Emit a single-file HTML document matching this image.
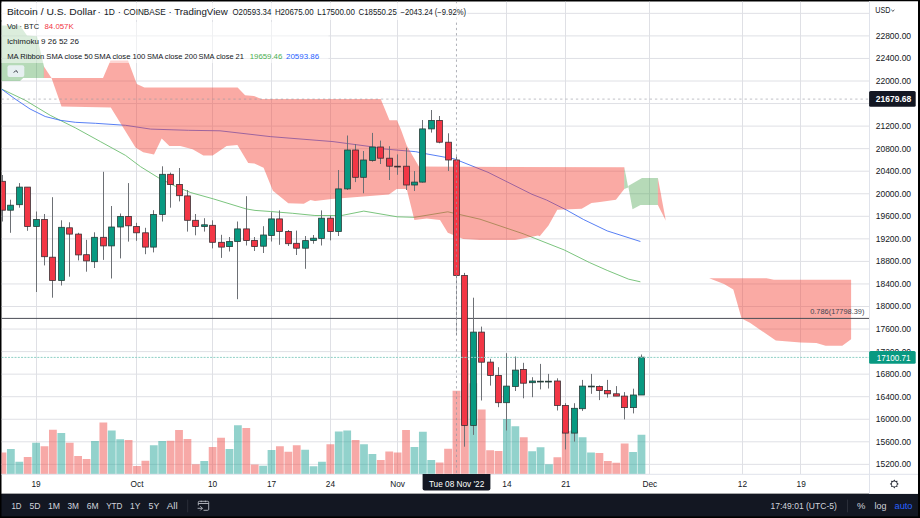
<!DOCTYPE html><html><head><meta charset="utf-8"><style>
html,body{margin:0;padding:0;background:#000;}
#root{position:relative;width:920px;height:518px;overflow:hidden;background:#000;}
svg{position:absolute;left:0;top:0;}
text{font-family:"Liberation Sans",sans-serif;}
</style></head><body><div id="root">
<svg width="920" height="518" viewBox="0 0 920 518">
<rect x="1.5" y="1.5" width="916.5" height="492.3" fill="#ffffff"/>
<rect x="1.5" y="493.8" width="916.5" height="22.6" fill="#131722"/>
<defs><clipPath id="cp"><rect x="1.5" y="1.5" width="867.5" height="472.8"/></clipPath></defs><g clip-path="url(#cp)">
<path d="M1.5 13.35H869 M1.5 35.90H869 M1.5 58.45H869 M1.5 81.00H869 M1.5 103.55H869 M1.5 126.10H869 M1.5 148.65H869 M1.5 171.20H869 M1.5 193.75H869 M1.5 216.30H869 M1.5 238.85H869 M1.5 261.40H869 M1.5 283.95H869 M1.5 306.50H869 M1.5 329.05H869 M1.5 351.60H869 M1.5 374.15H869 M1.5 396.70H869 M1.5 419.25H869 M1.5 441.80H869 M1.5 464.35H869" stroke="#dfe0e5" stroke-width="1" fill="none"/>
<path d="M36.50 1.5V474 M136.50 1.5V474 M212.50 1.5V474 M271.50 1.5V474 M330.50 1.5V474 M397.50 1.5V474 M506.50 1.5V474 M565.50 1.5V474 M649.50 1.5V474 M742.50 1.5V474 M800.50 1.5V474" stroke="#dfe0e5" stroke-width="1" fill="none"/>
<path d="M1.3 88.9 L25.1 100.2 L50.2 115.3 L75.3 127.8 L100.4 141.6 L125.5 155.4 L140.6 166.7 L158.2 177.6 L175.7 186.4 L190.8 192.6 L213.4 198.9 L246.1 208.9 L255.0 210.4 L270.5 211.5 L292.7 213.3 L314.9 215.5 L341.6 215.5 L363.8 211.1 L397.1 216.8 L414.4 217.3 L447.8 211.8 L480.0 219.2 L523.0 233.7 L564.1 249.9 L589.6 262.6 L607.2 270.4 L628.7 279.2 L640.4 281.8" stroke="#6cbd6f" stroke-width="0.9" fill="none"/>
<path d="M1.3 88.9 L15.0 98.9 L30.1 109.0 L45.2 116.5 L60.3 120.3 L75.3 122.3 L95.4 123.3 L125.5 125.3 L150.6 129.1 L188.3 130.3 L220.0 130.8 L270.2 136.6 L333.0 141.6 L370.6 146.6 L383.3 148.9 L415.8 151.7 L423.3 153.3 L454.4 158.9 L488.0 172.3 L532.0 194.3 L546.5 200.0 L566.1 209.8 L583.7 219.6 L607.2 230.9 L640.4 241.5" stroke="#4471f3" stroke-width="0.9" fill="none"/>
<path d="M1.5 25.4 L20.0 25.4 L27.0 35.5 L37.0 36.2 L44.0 66.4 L44.0 78.0 L23.2 78.0 L20.0 81.0 L1.5 81.0 Z" fill="rgba(67,160,71,0.39)"/>
<path d="M51.5 78.1 L103.0 78.1 L110.5 60.5 L128.0 60.5 L136.8 83.9 L144.4 87.6 L237.6 87.6 L245.1 95.2 L253.9 95.9 L261.4 98.9 L380.7 98.9 L389.5 120.3 L397.0 120.3 L401.1 130.0 L406.7 145.6 L418.9 166.6 L624.3 167.3 L624.3 189.0 L615.9 199.8 L600.0 202.0 L591.5 202.9 L581.7 208.8 L557.3 209.8 L548.5 225.4 L539.7 236.2 L538.0 235.4 L515.2 240.1 L480.0 240.0 L463.3 238.9 L447.8 232.7 L440.0 220.0 L426.7 218.4 L414.4 220.0 L406.7 188.9 L396.7 188.9 L388.9 194.4 L331.7 198.9 L315.0 201.1 L310.5 200.0 L303.8 203.8 L288.3 203.3 L272.9 190.8 L263.6 167.7 L254.4 163.6 L248.2 163.0 L237.4 145.1 L226.6 146.1 L212.7 155.4 L203.4 155.4 L192.6 149.2 L180.3 146.1 L169.4 146.1 L161.7 138.4 L154.0 154.4 L143.2 152.2 L135.5 147.6 L110.8 107.5 L61.5 106.5 Z" fill="rgba(244,67,54,0.45)"/>
<path d="M43.9 66.4 L51.5 77.9 L43.9 77.9 Z" fill="rgba(244,67,54,0.45)"/>
<path d="M624.3 167.3 L628.2 187.5 L624.3 189.0 Z" fill="rgba(67,160,71,0.39)"/>
<path d="M628.2 186.1 L642.0 178.1 L657.9 178.1 L657.9 204.9 L640.5 204.9 L632.5 209.2 Z" fill="rgba(67,160,71,0.39)"/>
<path d="M657.9 178.1 L665.8 220.8 L657.9 204.9 Z" fill="rgba(244,67,54,0.45)"/>
<path d="M709.2 278.3 L766.5 278.3 L773.9 279.8 L851.1 279.8 L851.1 339.3 L842.3 345.8 L825.6 345.8 L816.4 343.0 L800.7 342.4 L775.8 340.6 L749.9 322.7 L741.6 318.4 L733.3 289.4 L724.0 283.9 Z" fill="rgba(244,67,54,0.45)"/>
<path d="M-1.45 452.6h7.8V474h-7.8ZM23.77 457.0h7.8V474h-7.8ZM40.59 446.2h7.8V474h-7.8ZM49.00 429.7h7.8V474h-7.8ZM65.81 442.7h7.8V474h-7.8ZM74.22 456.1h7.8V474h-7.8ZM82.63 459.0h7.8V474h-7.8ZM99.45 422.5h7.8V474h-7.8ZM124.67 439.9h7.8V474h-7.8ZM133.08 466.0h7.8V474h-7.8ZM141.49 460.8h7.8V474h-7.8ZM166.71 440.8h7.8V474h-7.8ZM175.12 430.0h7.8V474h-7.8ZM183.53 439.0h7.8V474h-7.8ZM191.93 464.3h7.8V474h-7.8ZM208.75 447.0h7.8V474h-7.8ZM217.16 437.8h7.8V474h-7.8ZM242.38 427.9h7.8V474h-7.8ZM250.79 464.4h7.8V474h-7.8ZM276.01 446.2h7.8V474h-7.8ZM284.42 451.7h7.8V474h-7.8ZM292.83 445.3h7.8V474h-7.8ZM326.46 444.3h7.8V474h-7.8ZM351.69 439.9h7.8V474h-7.8ZM376.91 459.9h7.8V474h-7.8ZM385.32 451.4h7.8V474h-7.8ZM393.73 452.6h7.8V474h-7.8ZM402.13 430.0h7.8V474h-7.8ZM435.77 462.5h7.8V474h-7.8ZM444.17 448.8h7.8V474h-7.8ZM452.58 390.7h7.8V474h-7.8ZM460.99 360.0h7.8V474h-7.8ZM477.81 409.6h7.8V474h-7.8ZM486.21 450.3h7.8V474h-7.8ZM494.62 450.9h7.8V474h-7.8ZM519.85 437.2h7.8V474h-7.8ZM553.48 457.2h7.8V474h-7.8ZM561.89 430.9h7.8V474h-7.8ZM595.52 453.0h7.8V474h-7.8ZM603.93 461.1h7.8V474h-7.8ZM612.33 462.8h7.8V474h-7.8ZM620.74 443.6h7.8V474h-7.8Z" fill="rgba(239,83,80,0.5)"/>
<path d="M6.96 449.1h7.8V474h-7.8ZM15.37 461.8h7.8V474h-7.8ZM32.18 442.7h7.8V474h-7.8ZM57.41 433.0h7.8V474h-7.8ZM91.04 441.0h7.8V474h-7.8ZM107.85 430.5h7.8V474h-7.8ZM116.26 439.2h7.8V474h-7.8ZM149.89 445.3h7.8V474h-7.8ZM158.30 441.0h7.8V474h-7.8ZM200.34 461.0h7.8V474h-7.8ZM225.57 449.1h7.8V474h-7.8ZM233.97 425.3h7.8V474h-7.8ZM259.20 465.7h7.8V474h-7.8ZM267.61 450.0h7.8V474h-7.8ZM301.24 449.7h7.8V474h-7.8ZM309.65 466.2h7.8V474h-7.8ZM318.05 461.7h7.8V474h-7.8ZM334.87 431.4h7.8V474h-7.8ZM343.28 430.5h7.8V474h-7.8ZM360.09 444.3h7.8V474h-7.8ZM368.50 454.0h7.8V474h-7.8ZM410.54 446.9h7.8V474h-7.8ZM418.95 431.7h7.8V474h-7.8ZM427.36 459.9h7.8V474h-7.8ZM469.40 383.3h7.8V474h-7.8ZM503.03 419.0h7.8V474h-7.8ZM511.44 426.3h7.8V474h-7.8ZM528.25 451.3h7.8V474h-7.8ZM536.66 447.2h7.8V474h-7.8ZM545.07 464.3h7.8V474h-7.8ZM570.29 430.5h7.8V474h-7.8ZM578.70 437.2h7.8V474h-7.8ZM587.11 452.4h7.8V474h-7.8ZM629.15 452.0h7.8V474h-7.8ZM637.56 434.7h7.8V474h-7.8Z" fill="rgba(38,166,154,0.5)"/>
<path d="M1.5 318.4H869" stroke="#4a4d55" stroke-width="1"/>
<path d="M2.50 175.0V221.5 M10.50 199.7V232.8 M19.50 183.1V207.7 M27.50 187.1V230.8 M36.50 211.5V292.0 M44.50 214.0V265.4 M52.50 197.2V297.7 M61.50 220.3V285.5 M69.50 222.3V276.7 M78.50 232.8V260.4 M86.50 239.8V271.7 M94.50 232.3V268.0 M103.50 171.8V259.9 M111.50 206.0V278.5 M120.50 213.5V258.4 M128.50 183.1V241.6 M136.50 222.8V240.8 M145.50 227.8V254.2 M153.50 210.2V252.4 M162.50 166.3V221.5 M170.50 172.6V207.7 M179.50 168.0V201.4 M187.50 190.1V231.6 M195.50 214.0V235.3 M204.50 218.2V231.6 M212.50 220.3V248.4 M221.50 234.8V257.9 M229.50 237.0V251.5 M237.50 221.5V299.2 M246.50 196.2V245.5 M254.50 237.0V251.0 M263.50 226.2V253.0 M271.50 212.2V241.5 M279.50 210.4V244.8 M288.50 230.0V246.0 M296.50 230.6V255.0 M305.50 236.0V268.8 M313.50 235.0V243.7 M321.50 210.4V245.5 M330.50 215.5V240.4 M338.50 170.0V236.0 M347.50 135.5V190.0 M355.50 144.0V182.1 M363.50 151.0V193.3 M372.50 132.9V161.7 M380.50 140.6V164.0 M389.50 146.2V180.0 M397.50 154.4V174.8 M406.50 147.7V190.0 M414.50 171.0V191.0 M422.50 120.0V182.6 M431.50 110.0V132.6 M439.50 116.0V143.3 M448.50 133.3V171.0 M456.50 156.6V275.5 M464.50 272.9V446.7 M473.50 297.7V434.9 M481.50 326.6V400.5 M490.50 358.8V385.6 M498.50 367.2V407.2 M506.50 353.2V430.5 M515.50 356.5V391.0 M523.50 362.8V398.3 M532.50 377.2V397.2 M540.50 363.9V389.4 M548.50 373.9V388.5 M557.50 378.3V410.5 M565.50 403.2V449.4 M574.50 403.2V441.6 M582.50 379.9V410.9 M591.50 373.9V393.8 M599.50 385.4V400.1 M607.50 379.9V397.6 M616.50 386.1V396.1 M624.50 392.1V419.4 M633.50 388.7V413.4 M641.50 354.5V395.0" stroke="#6d7075" stroke-width="1" fill="none"/>
<g fill="#f23645" stroke="#3a2e32" stroke-width="0.8"><rect x="-0.40" y="181.3" width="5.8" height="28.9"/><rect x="24.60" y="187.1" width="5.8" height="39.4"/><rect x="41.60" y="219.5" width="5.8" height="37.2"/><rect x="49.60" y="257.2" width="5.8" height="23.3"/><rect x="66.60" y="227.8" width="5.8" height="6.3"/><rect x="75.60" y="234.1" width="5.8" height="20.8"/><rect x="83.60" y="254.7" width="5.8" height="6.2"/><rect x="100.60" y="237.3" width="5.8" height="8.6"/><rect x="125.60" y="216.5" width="5.8" height="9.3"/><rect x="133.60" y="226.5" width="5.8" height="6.3"/><rect x="142.60" y="232.8" width="5.8" height="14.3"/><rect x="167.60" y="174.3" width="5.8" height="10.3"/><rect x="176.60" y="184.4" width="5.8" height="11.3"/><rect x="184.60" y="195.9" width="5.8" height="24.4"/><rect x="192.60" y="220.3" width="5.8" height="6.2"/><rect x="209.60" y="225.3" width="5.8" height="17.0"/><rect x="218.60" y="242.3" width="5.8" height="4.8"/><rect x="243.60" y="228.9" width="5.8" height="11.7"/><rect x="251.60" y="240.4" width="5.8" height="6.2"/><rect x="276.60" y="218.9" width="5.8" height="12.6"/><rect x="285.60" y="231.5" width="5.8" height="12.2"/><rect x="293.60" y="243.3" width="5.8" height="4.9"/><rect x="327.60" y="218.2" width="5.8" height="13.3"/><rect x="352.60" y="150.0" width="5.8" height="27.3"/><rect x="377.60" y="147.0" width="5.8" height="11.2"/><rect x="386.60" y="158.2" width="5.8" height="8.0"/><rect x="394.60" y="166.2" width="5.8" height="0.8"/><rect x="403.60" y="166.2" width="5.8" height="18.8"/><rect x="436.60" y="120.4" width="5.8" height="21.8"/><rect x="445.60" y="142.2" width="5.8" height="17.8"/><rect x="453.60" y="160.0" width="5.8" height="115.5"/><rect x="461.60" y="275.5" width="5.8" height="149.9"/><rect x="478.60" y="332.1" width="5.8" height="30.1"/><rect x="487.60" y="362.1" width="5.8" height="13.3"/><rect x="495.60" y="375.4" width="5.8" height="27.3"/><rect x="520.60" y="369.4" width="5.8" height="13.8"/><rect x="554.60" y="381.0" width="5.8" height="24.4"/><rect x="562.60" y="405.4" width="5.8" height="27.7"/><rect x="596.60" y="386.5" width="5.8" height="4.0"/><rect x="604.60" y="390.5" width="5.8" height="3.3"/><rect x="613.60" y="393.8" width="5.8" height="2.3"/><rect x="621.60" y="396.1" width="5.8" height="11.5"/></g>
<g fill="#089981" stroke="#263d39" stroke-width="0.8"><rect x="7.60" y="205.2" width="5.8" height="5.0"/><rect x="16.60" y="187.1" width="5.8" height="17.6"/><rect x="33.60" y="219.5" width="5.8" height="7.0"/><rect x="58.60" y="227.3" width="5.8" height="53.2"/><rect x="91.60" y="237.3" width="5.8" height="24.4"/><rect x="108.60" y="227.0" width="5.8" height="18.9"/><rect x="117.60" y="216.5" width="5.8" height="10.5"/><rect x="150.60" y="214.5" width="5.8" height="32.6"/><rect x="159.60" y="174.3" width="5.8" height="40.2"/><rect x="201.60" y="224.8" width="5.8" height="1.7"/><rect x="226.60" y="241.5" width="5.8" height="5.1"/><rect x="234.60" y="228.9" width="5.8" height="12.6"/><rect x="260.60" y="235.0" width="5.8" height="11.2"/><rect x="268.60" y="218.9" width="5.8" height="16.6"/><rect x="302.60" y="240.6" width="5.8" height="7.6"/><rect x="310.60" y="238.2" width="5.8" height="2.4"/><rect x="318.60" y="218.2" width="5.8" height="20.2"/><rect x="335.60" y="188.9" width="5.8" height="42.6"/><rect x="344.60" y="150.0" width="5.8" height="38.9"/><rect x="360.60" y="160.0" width="5.8" height="17.3"/><rect x="369.60" y="147.0" width="5.8" height="13.4"/><rect x="411.60" y="182.1" width="5.8" height="2.9"/><rect x="419.60" y="128.9" width="5.8" height="53.2"/><rect x="428.60" y="120.4" width="5.8" height="8.5"/><rect x="470.60" y="332.1" width="5.8" height="93.3"/><rect x="503.60" y="386.1" width="5.8" height="16.6"/><rect x="512.60" y="370.1" width="5.8" height="16.4"/><rect x="529.60" y="381.0" width="5.8" height="1.7"/><rect x="537.60" y="381.2" width="5.8" height="0.8"/><rect x="545.60" y="381.2" width="5.8" height="0.8"/><rect x="571.60" y="408.3" width="5.8" height="24.8"/><rect x="579.60" y="386.1" width="5.8" height="22.6"/><rect x="588.60" y="386.1" width="5.8" height="0.8"/><rect x="630.60" y="395.0" width="5.8" height="12.6"/><rect x="638.60" y="357.2" width="5.8" height="37.8"/></g>
<path d="M456.5 275.5V334.8" stroke="#bfc1c6" stroke-width="1"/><path d="M456.5 275.54V334.8" stroke="#5d6066" stroke-width="1" stroke-dasharray="2.3 2.97"/>
<path d="M1.5 357.4H869" stroke="#8fd0c5" stroke-width="1" stroke-dasharray="2 1.26"/>
<path d="M1.5 99.1H869" stroke="#9598a1" stroke-width="1" stroke-dasharray="2.3 2.97" opacity="0.6"/>
<path d="M456.48 1.5V474" stroke="#9598a1" stroke-width="1" stroke-dasharray="2.3 2.97" opacity="0.75"/>
</g>
<rect x="1.5" y="3" width="466" height="17" fill="#ffffff" opacity="0.7"/>
<rect x="1.5" y="22" width="327" height="41" fill="#ffffff" opacity="0.5"/>
<text x="6.90" y="14.70" font-size="9.6" fill="#131722" textLength="89.30" lengthAdjust="spacingAndGlyphs">Bitcoin / U.S. Dollar</text>
<text x="99.10" y="14.7" font-size="9.6" fill="#131722" text-anchor="middle">·</text>
<text x="104.00" y="14.70" font-size="9.6" fill="#131722" textLength="10.80" lengthAdjust="spacingAndGlyphs">1D</text>
<text x="119.40" y="14.7" font-size="9.6" fill="#131722" text-anchor="middle">·</text>
<text x="123.40" y="14.70" font-size="9.6" fill="#131722" textLength="42.30" lengthAdjust="spacingAndGlyphs">COINBASE</text>
<text x="170.00" y="14.7" font-size="9.6" fill="#131722" text-anchor="middle">·</text>
<text x="174.30" y="14.70" font-size="9.6" fill="#131722" textLength="53.40" lengthAdjust="spacingAndGlyphs">TradingView</text>
<text x="232.50" y="14.90" font-size="8.3" fill="#131722" textLength="38.80" lengthAdjust="spacingAndGlyphs">O20593.34</text>
<text x="274.90" y="14.90" font-size="8.3" fill="#131722" textLength="38.70" lengthAdjust="spacingAndGlyphs">H20675.00</text>
<text x="317.30" y="14.90" font-size="8.3" fill="#131722" textLength="37.60" lengthAdjust="spacingAndGlyphs">L17500.00</text>
<text x="358.60" y="14.90" font-size="8.3" fill="#131722" textLength="38.20" lengthAdjust="spacingAndGlyphs">C18550.25</text>
<text x="400.60" y="14.90" font-size="8.3" fill="#131722" textLength="65.40" lengthAdjust="spacingAndGlyphs">−2043.24 (−9.92%)</text>
<text x="6.90" y="29.00" font-size="7.9" fill="#131722" textLength="32.20" lengthAdjust="spacingAndGlyphs">Vol · BTC</text>
<text x="44.50" y="29.00" font-size="7.9" fill="#f23645" textLength="29.20" lengthAdjust="spacingAndGlyphs">84.057K</text>
<text x="6.90" y="43.50" font-size="7.9" fill="#131722" textLength="72.00" lengthAdjust="spacingAndGlyphs">Ichimoku 9 26 52 26</text>
<text x="7.20" y="58.60" font-size="7.9" fill="#131722" textLength="85.50" lengthAdjust="spacingAndGlyphs">MA Ribbon SMA close 50</text>
<text x="94.10" y="58.60" font-size="7.9" fill="#131722" textLength="51.30" lengthAdjust="spacingAndGlyphs">SMA close 100</text>
<text x="146.90" y="58.60" font-size="7.9" fill="#131722" textLength="50.20" lengthAdjust="spacingAndGlyphs">SMA close 200</text>
<text x="198.50" y="58.60" font-size="7.9" fill="#131722" textLength="45.30" lengthAdjust="spacingAndGlyphs">SMA close 21</text>
<text x="249.70" y="58.60" font-size="7.9" fill="#4caf50" textLength="32.60" lengthAdjust="spacingAndGlyphs">19659.46</text>
<text x="286.00" y="58.60" font-size="7.9" fill="#2962ff" textLength="33.10" lengthAdjust="spacingAndGlyphs">20593.86</text>
<rect x="7.5" y="65.3" width="16.8" height="11.8" rx="2" fill="#f0f3fa" opacity="0.85"/>
<path d="M13.8 72.6 L15.9 70.5 L18 72.6" stroke="#131722" stroke-width="0.9" fill="none"/>
<text x="810.20" y="314.00" font-size="8.0" fill="#434651" textLength="54.20" lengthAdjust="spacingAndGlyphs">0.786(17798.39)</text>
<rect x="869" y="1.5" width="49" height="492.3" fill="#ffffff"/>
<path d="M869.5 1.5V493.8" stroke="#e0e3eb" stroke-width="1"/>
<path d="M1.5 474.3H918" stroke="#e0e3eb" stroke-width="1"/>
<text x="875.70" y="38.80" font-size="8.8" fill="#131722" textLength="35.40" lengthAdjust="spacingAndGlyphs">22800.00</text>
<text x="875.70" y="61.35" font-size="8.8" fill="#131722" textLength="35.40" lengthAdjust="spacingAndGlyphs">22400.00</text>
<text x="875.70" y="83.90" font-size="8.8" fill="#131722" textLength="35.40" lengthAdjust="spacingAndGlyphs">22000.00</text>
<text x="875.70" y="129.00" font-size="8.8" fill="#131722" textLength="35.40" lengthAdjust="spacingAndGlyphs">21200.00</text>
<text x="875.70" y="151.55" font-size="8.8" fill="#131722" textLength="35.40" lengthAdjust="spacingAndGlyphs">20800.00</text>
<text x="875.70" y="174.10" font-size="8.8" fill="#131722" textLength="35.40" lengthAdjust="spacingAndGlyphs">20400.00</text>
<text x="875.70" y="196.65" font-size="8.8" fill="#131722" textLength="35.40" lengthAdjust="spacingAndGlyphs">20000.00</text>
<text x="875.70" y="219.20" font-size="8.8" fill="#131722" textLength="35.40" lengthAdjust="spacingAndGlyphs">19600.00</text>
<text x="875.70" y="241.75" font-size="8.8" fill="#131722" textLength="35.40" lengthAdjust="spacingAndGlyphs">19200.00</text>
<text x="875.70" y="264.30" font-size="8.8" fill="#131722" textLength="35.40" lengthAdjust="spacingAndGlyphs">18800.00</text>
<text x="875.70" y="286.85" font-size="8.8" fill="#131722" textLength="35.40" lengthAdjust="spacingAndGlyphs">18400.00</text>
<text x="875.70" y="309.40" font-size="8.8" fill="#131722" textLength="35.40" lengthAdjust="spacingAndGlyphs">18000.00</text>
<text x="875.70" y="331.95" font-size="8.8" fill="#131722" textLength="35.40" lengthAdjust="spacingAndGlyphs">17600.00</text>
<text x="875.70" y="354.50" font-size="8.8" fill="#131722" textLength="35.40" lengthAdjust="spacingAndGlyphs">17200.00</text>
<text x="875.70" y="377.05" font-size="8.8" fill="#131722" textLength="35.40" lengthAdjust="spacingAndGlyphs">16800.00</text>
<text x="875.70" y="399.60" font-size="8.8" fill="#131722" textLength="35.40" lengthAdjust="spacingAndGlyphs">16400.00</text>
<text x="875.70" y="422.15" font-size="8.8" fill="#131722" textLength="35.40" lengthAdjust="spacingAndGlyphs">16000.00</text>
<text x="875.70" y="444.70" font-size="8.8" fill="#131722" textLength="35.40" lengthAdjust="spacingAndGlyphs">15600.00</text>
<text x="875.70" y="467.25" font-size="8.8" fill="#131722" textLength="35.40" lengthAdjust="spacingAndGlyphs">15200.00</text>
<text x="875.30" y="13.20" font-size="8.8" fill="#131722" textLength="15.10" lengthAdjust="spacingAndGlyphs">USD</text>
<path d="M891.4 9.9 L892.9 11.3 L894.4 9.9" stroke="#131722" stroke-width="0.8" fill="none"/>
<rect x="869.1" y="91.1" width="46.6" height="15.7" rx="1.5" fill="#131722"/>
<text x="875.80" y="102.20" font-size="8.8" fill="#ffffff" font-weight="bold" textLength="35.40" lengthAdjust="spacingAndGlyphs">21679.68</text>
<rect x="869.1" y="351.1" width="46.6" height="12.6" rx="1.5" fill="#089981"/>
<text x="876.70" y="360.50" font-size="8.8" fill="#ffffff" textLength="33.90" lengthAdjust="spacingAndGlyphs">17100.71</text>
<g font-size="8.3" fill="#131722" text-anchor="middle"><text x="36.1" y="486.8">19</text><text x="137.0" y="486.8">Oct</text><text x="212.6" y="486.8">10</text><text x="271.5" y="486.8">17</text><text x="330.4" y="486.8">24</text><text x="397.6" y="486.8">Nov</text><text x="506.9" y="486.8">14</text><text x="565.8" y="486.8">21</text><text x="649.9" y="486.8">Dec</text><text x="742.4" y="486.8">12</text><text x="801.2" y="486.8">19</text></g>
<path d="M422.6 474 H490.4 V488.5 Q490.4 490.5 488.4 490.5 H424.6 Q422.6 490.5 422.6 488.5 Z" fill="#131722"/>
<text x="428.90" y="486.60" font-size="8.6" fill="#ffffff" textLength="55.40" lengthAdjust="spacingAndGlyphs">Tue 08 Nov &#x27;22</text>
<path fill-rule="evenodd" fill="#2a2e39" d="M894.30 479.40 L895.52 480.94 L897.48 480.72 L897.26 482.68 L898.80 483.90 L897.26 485.12 L897.48 487.08 L895.52 486.86 L894.30 488.40 L893.08 486.86 L891.12 487.08 L891.34 485.12 L889.80 483.90 L891.34 482.68 L891.12 480.72 L893.08 480.94 Z M896.8 483.9 A2.5 2.5 0 1 0 891.8 483.9 A2.5 2.5 0 1 0 896.8 483.9 Z"/>
<text x="11.40" y="509.00" font-size="8.6" fill="#d1d4dc" textLength="10.10" lengthAdjust="spacingAndGlyphs">1D</text>
<text x="29.50" y="509.00" font-size="8.6" fill="#d1d4dc" textLength="11.00" lengthAdjust="spacingAndGlyphs">5D</text>
<text x="48.00" y="509.00" font-size="8.6" fill="#d1d4dc" textLength="12.10" lengthAdjust="spacingAndGlyphs">1M</text>
<text x="67.50" y="509.00" font-size="8.6" fill="#d1d4dc" textLength="11.50" lengthAdjust="spacingAndGlyphs">3M</text>
<text x="86.70" y="509.00" font-size="8.6" fill="#d1d4dc" textLength="11.90" lengthAdjust="spacingAndGlyphs">6M</text>
<text x="106.20" y="509.00" font-size="8.6" fill="#d1d4dc" textLength="16.30" lengthAdjust="spacingAndGlyphs">YTD</text>
<text x="130.10" y="509.00" font-size="8.6" fill="#d1d4dc" textLength="10.40" lengthAdjust="spacingAndGlyphs">1Y</text>
<text x="148.60" y="509.00" font-size="8.6" fill="#d1d4dc" textLength="10.80" lengthAdjust="spacingAndGlyphs">5Y</text>
<text x="166.80" y="509.00" font-size="8.6" fill="#d1d4dc" textLength="10.90" lengthAdjust="spacingAndGlyphs">All</text>
<path d="M187.7 499.6V512.3" stroke="#2a2e39" stroke-width="1"/>
<g stroke="#b8bbc4" stroke-width="0.9" fill="none"><path d="M198.3 505.4 V502.3 Q198.3 501.3 199.3 501.3 H207.7 Q208.7 501.3 208.7 502.3 V509.3 Q208.7 510.3 207.7 510.3 H203.5"/><path d="M198.3 503.5 H208.7 M201.2 500.7 V502.2 M205.4 500.7 V502.2"/><path d="M197.6 508.3 H202.4 M200.3 506.2 L202.4 508.3 L200.3 510.4"/></g>
<text x="770.50" y="509.20" font-size="8.6" fill="#d1d4dc" textLength="66.30" lengthAdjust="spacingAndGlyphs">17:49:01 (UTC-5)</text>
<path d="M847.5 499.6V512.3" stroke="#2a2e39" stroke-width="1"/>
<text x="857.10" y="509.20" font-size="8.6" fill="#d1d4dc" textLength="8.40" lengthAdjust="spacingAndGlyphs">%</text>
<text x="874.50" y="509.20" font-size="8.6" fill="#d1d4dc" textLength="11.90" lengthAdjust="spacingAndGlyphs">log</text>
<text x="894.50" y="509.20" font-size="8.6" fill="#2962ff" textLength="18.00" lengthAdjust="spacingAndGlyphs">auto</text>
</svg></div></body></html>
